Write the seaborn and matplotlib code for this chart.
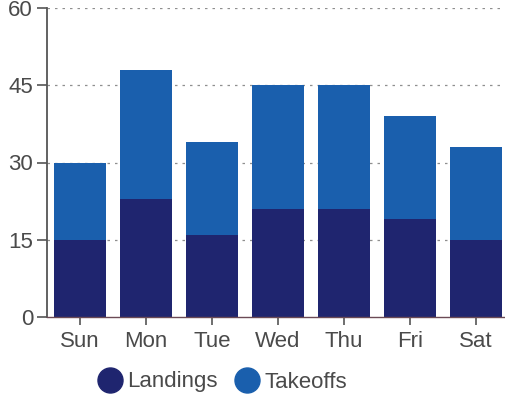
import matplotlib
matplotlib.use("Agg")
import matplotlib.pyplot as plt
from matplotlib.lines import Line2D
import seaborn as sns
import pandas as pd

days = ["Sun", "Mon", "Tue", "Wed", "Thu", "Fri", "Sat"]
landings = [15, 23, 16, 21, 21, 19, 15]
takeoffs = [15, 25, 18, 24, 24, 20, 18]
y_ticks = [0, 15, 30, 45, 60]

landing_color = "#1f256f"
takeoff_color = "#1a5fad"
text_color = "#4a4a4a"

sns.set_theme(style="white")
plt.rcParams["font.family"] = ["Liberation Sans", "DejaVu Sans"]

df = pd.DataFrame({"day": days, "Landings": landings, "Takeoffs": takeoffs})
df["total"] = df["Landings"] + df["Takeoffs"]

fig = plt.figure(figsize=(5.05, 3.98), dpi=100)
ax = fig.add_axes([47 / 505, 1 - 317 / 398, (509 - 47) / 505, (317 - 8) / 398])

# stacked bars: full height in the takeoff colour, landings drawn over the base
sns.barplot(data=df, x="day", y="total", color=takeoff_color, saturation=1,
            width=0.79, ax=ax, zorder=2, linewidth=0, edgecolor="none")
sns.barplot(data=df, x="day", y="Landings", color=landing_color, saturation=1,
            width=0.79, ax=ax, zorder=3, linewidth=0, edgecolor="none")

ax.set_ylim(0, 60)
ax.set_yticks(y_ticks)
ax.set_xlabel("")
ax.set_ylabel("")

for v in y_ticks[1:]:
    ax.axhline(v, color="#8f8f8f", lw=0.9, ls=(0, (2, 4)), zorder=1)

for side in ["top", "right"]:
    ax.spines[side].set_visible(False)
ax.spines["left"].set_color("#555555")
ax.spines["left"].set_linewidth(1.3)
ax.spines["bottom"].set_color("#6b4a55")
ax.spines["bottom"].set_linewidth(1.0)
ax.spines["bottom"].set_zorder(4)

ax.tick_params(axis="y", left=True, length=7, width=1.2, color="#555555",
               labelsize=16, labelcolor=text_color, pad=3)
ax.tick_params(axis="x", bottom=True, length=6, width=1.2, color="#555555",
               labelsize=16, labelcolor=text_color, pad=4)

handles = [
    Line2D([], [], marker="o", ls="", markersize=18, color=landing_color),
    Line2D([], [], marker="o", ls="", markersize=18, color=takeoff_color),
]
fig.legend(handles, ["Landings", "Takeoffs"], loc="center",
           bbox_to_anchor=(223 / 505, 1 - 382 / 398), ncol=2, frameon=False,
           fontsize=16, labelcolor=text_color, handletextpad=0.27,
           columnspacing=0.85, handlelength=1.0, borderpad=0, borderaxespad=0)

fig.savefig("out.png", dpi=100)
